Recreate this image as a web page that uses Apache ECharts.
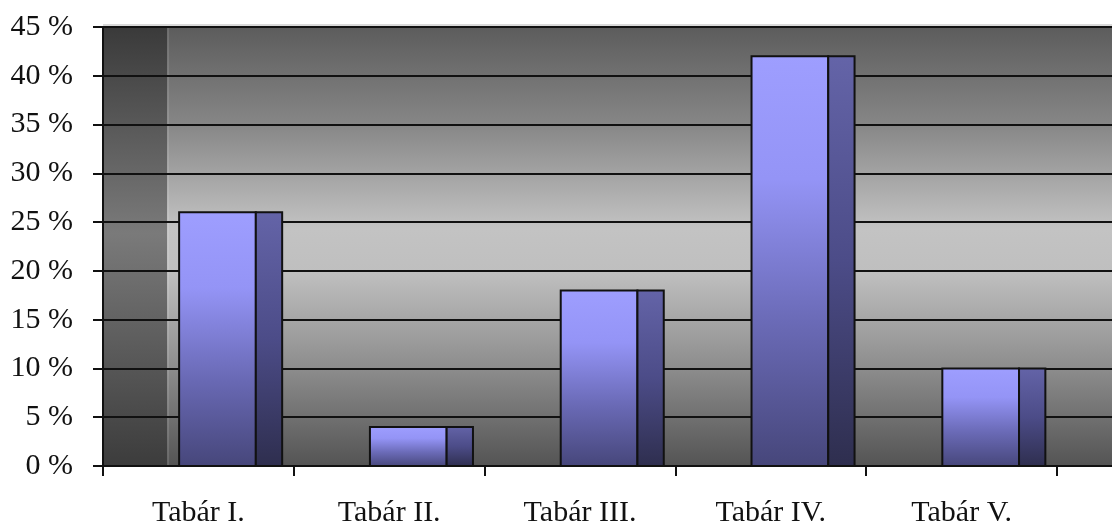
<!DOCTYPE html>
<html>
<head>
<meta charset="utf-8">
<script src="https://cdn.jsdelivr.net/npm/echarts@6/dist/echarts.min.js"></script>
<style>
  html, body { margin: 0; padding: 0; background: #ffffff; }
  #chart { width: 1112px; height: 526px; }
</style>
</head>
<body>
<div id="chart"></div>
<script>
// Share of each pond, in percent
const categories = ['Tabár I.', 'Tabár II.', 'Tabár III.', 'Tabár IV.', 'Tabár V.'];
const shares = [26, 4, 18, 42, 10];
// Value-axis ticks (percent)
const yTicks = [0, 5, 10, 15, 20, 25, 30, 35, 40, 45];

const FONT = 'Liberation Serif';
const INK = '#111111';

const chart = echarts.init(document.getElementById('chart'), null, { renderer: 'canvas' });

// Grey back wall, darker side wall on the left
function drawBackdrop(params) {
  const cs = params.coordSys;
  const wallW = cs.width * 0.0635;
  return {
    type: 'group',
    children: [
      {
        type: 'rect',
        shape: { x: cs.x, y: cs.y, width: cs.width, height: cs.height },
        style: {
          fill: new echarts.graphic.LinearGradient(0, 0, 0, 1, [
            { offset: 0, color: '#5c5c5c' },
            { offset: 0.22, color: '#868686' },
            { offset: 0.46, color: '#c3c3c3' },
            { offset: 0.56, color: '#bfbfbf' },
            { offset: 0.78, color: '#8c8c8c' },
            { offset: 1, color: '#545454' }
          ])
        }
      },
      {
        type: 'rect',
        shape: { x: cs.x, y: cs.y, width: wallW, height: cs.height },
        style: {
          fill: new echarts.graphic.LinearGradient(0, 0, 0, 1, [
            { offset: 0, color: '#3a3a3a' },
            { offset: 0.47, color: '#7a7a7a' },
            { offset: 1, color: '#3c3c3c' }
          ])
        }
      },
      {
        type: 'line',
        shape: { x1: cs.x + wallW + 1, y1: cs.y, x2: cs.x + wallW + 1, y2: cs.y + cs.height },
        style: { stroke: 'rgba(255,255,255,0.12)', lineWidth: 2 }
      },
      {
        type: 'line',
        shape: { x1: cs.x, y1: cs.y - 2, x2: cs.x + cs.width, y2: cs.y - 2 },
        style: { stroke: '#dadada', lineWidth: 2 }
      }
    ]
  };
}

// Front face plus a darker side face for each column
function drawColumn(params, api) {
  const i = api.value(0);
  const v = api.value(1);
  const top = api.coord([i, v]);
  const base = api.coord([i, 0]);
  const w = api.size([1, 0])[0];
  const frontX = top[0] - w * 0.101;
  const frontW = w * 0.402;
  const sideW = w * 0.138;
  const h = base[1] - top[1];
  return {
    type: 'group',
    children: [
      {
        type: 'rect',
        shape: { x: frontX, y: top[1], width: frontW, height: h },
        style: {
          fill: new echarts.graphic.LinearGradient(0, 0, 0, 1, [
            { offset: 0, color: '#9e9eff' },
            { offset: 0.3, color: '#9494f6' },
            { offset: 0.65, color: '#6a6ab6' },
            { offset: 1, color: '#46467a' }
          ]),
          stroke: INK,
          lineWidth: 2
        }
      },
      {
        type: 'rect',
        shape: { x: frontX + frontW, y: top[1], width: sideW, height: h },
        style: {
          fill: new echarts.graphic.LinearGradient(0, 0, 0, 1, [
            { offset: 0, color: '#6464a8' },
            { offset: 0.5, color: '#4c4c88' },
            { offset: 1, color: '#2e2e4e' }
          ]),
          stroke: INK,
          lineWidth: 2
        }
      }
    ]
  };
}

const option = {
  animation: false,
  backgroundColor: '#ffffff',
  grid: [
    { left: 103, top: 27, right: 0, bottom: 60, outerBoundsMode: 'none', containLabel: false },
    { left: 103, top: 27, right: 55, bottom: 60, outerBoundsMode: 'none', containLabel: false }
  ],
  xAxis: [
    {
      gridIndex: 0, type: 'value', min: 0, max: 1,
      axisLine: { show: true, lineStyle: { color: INK, width: 2 } },
      axisTick: { show: false }, axisLabel: { show: false }, splitLine: { show: false }
    },
    {
      gridIndex: 1, type: 'category', data: categories,
      axisLine: { show: false },
      axisTick: { show: true, length: 10, lineStyle: { color: INK, width: 2 } },
      axisLabel: { margin: 32, fontFamily: FONT, fontSize: 30, color: INK }
    }
  ],
  yAxis: [
    {
      gridIndex: 0, type: 'value', min: yTicks[0], max: yTicks[yTicks.length - 1], interval: yTicks[1] - yTicks[0],
      axisLine: { show: true, lineStyle: { color: INK, width: 2 } },
      axisTick: { show: true, length: 10, lineStyle: { color: INK, width: 2 } },
      axisLabel: { margin: 30, fontFamily: FONT, fontSize: 30, color: INK, formatter: v => v + ' %' },
      splitLine: { show: true, lineStyle: { color: '#111111', width: 2 } }
    },
    {
      gridIndex: 1, type: 'value', min: yTicks[0], max: yTicks[yTicks.length - 1], interval: yTicks[1] - yTicks[0],
      show: false
    }
  ],
  series: [
    {
      type: 'custom', xAxisIndex: 0, yAxisIndex: 0, z: -1, silent: true,
      data: [[0, 0]], renderItem: drawBackdrop
    },
    {
      type: 'custom', xAxisIndex: 1, yAxisIndex: 1, z: 3,
      data: shares.map((v, i) => [i, v]),
      encode: { x: 0, y: 1 },
      renderItem: drawColumn
    }
  ]
};

chart.setOption(option);
</script>
</body>
</html>
